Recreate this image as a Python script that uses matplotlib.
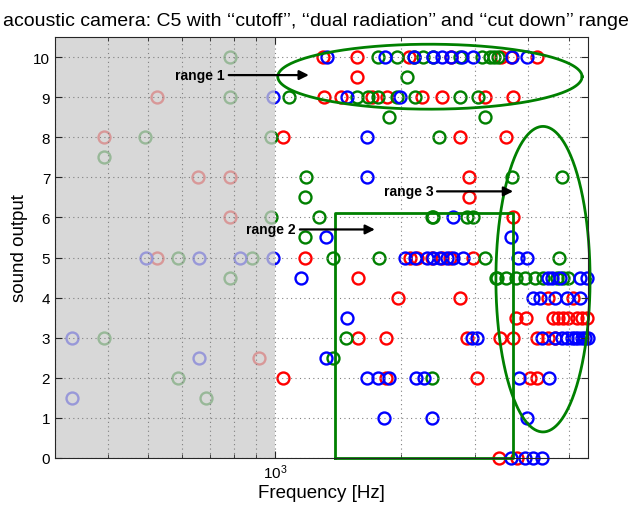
import numpy as np
import matplotlib
matplotlib.use("Agg")
import matplotlib.pyplot as plt
from matplotlib.ticker import LogLocator, NullFormatter

plt.rcParams['font.family'] = ['Liberation Sans', 'DejaVu Sans']

# ---------------- data (frequency in Hz, sound output) ----------------
red_f = [524, 392, 656, 781, 781, 524, 916,
         1301, 1567, 2085, 2630, 3450, 3650, 4205,
         1567,
         1308, 1436, 1702, 1848, 2239, 2499, 3162, 3689,
         1045, 2757, 3548,
         2897, 2897, 3689,
         1179, 2100, 2180, 2364, 2499, 2610, 2960,
         1576,
         1963, 2757, 4467, 5124,
         3748, 3960, 4591, 4720, 4850, 4985, 5240, 5383, 5533,
         1576, 1837, 2865, 3433, 3689, 4205, 4467, 4640,
         1045, 1837, 3027, 4047, 4205,
         3413, 3769]
red_y = [9, 8, 7, 7, 6, 5, 2.5,
         10, 10, 10, 10, 10, 10, 10,
         9.5,
         9, 9, 9, 9, 9, 9, 9, 9,
         8, 8, 8,
         7, 6.5, 6,
         5, 5, 5, 5, 5, 5, 5,
         4.5,
         4, 4, 4, 4,
         3.5, 3.5, 3.5, 3.5, 3.5, 3.5, 3.5, 3.5, 3.5,
         3, 3, 3, 3, 3, 3, 3, 3,
         2, 2, 2, 2, 2,
         0, 0]

blue_f = [990, 493, 659, 826, 989, 329, 659, 329,
          1330, 1828, 2143, 2380, 2499, 2630, 2787, 2960, 3667, 3981,
          1484, 1984,
          1656, 1656, 2654,
          1323, 3648,
          2040, 2154, 2301, 2378, 2471, 2568, 2654, 2803, 3790, 3981,
          1153, 4467, 4566, 4770, 5324, 5533,
          4113, 4270, 4642, 4958, 5324,
          1484,
          2944, 3027, 4324, 4642, 4822, 4958, 5097, 5179, 5266, 5383, 5474, 5566,
          1323,
          1656, 1758, 1868, 2166, 2264, 3811, 4490,
          1817, 2364, 3981,
          3648, 3938, 4113, 4324]
blue_y = [9, 5, 5, 5, 5, 3, 2.5, 1.5,
          10, 10, 10, 10, 10, 10, 10, 10, 10, 10,
          9, 9,
          8, 7, 6,
          5.5, 5.5,
          5, 5, 5, 5, 5, 5, 5, 5, 5, 5,
          4.5, 4.5, 4.5, 4.5, 4.5, 4.5,
          4, 4, 4, 4, 4,
          3.5,
          3, 3, 3, 3, 3, 3, 3, 3, 3, 3, 3, 3,
          2.5,
          2, 2, 2, 2, 2, 2, 2,
          1, 1, 1,
          0, 0, 0, 0]

green_f = [781, 781, 490, 978, 392, 978, 588, 882, 781, 392, 588, 685,
           1758, 1952, 2143, 2250, 2378, 2757, 3111, 3250, 3320, 3396,
           2062,
           1080, 1567, 1665, 1758, 1952, 2154, 2757, 3043,
           1868, 3162,
           2456,
           1185, 3667, 4822,
           1179,
           1273, 2364, 2380, 2865, 2960,
           1179,
           1374, 1769, 3162, 4744,
           3358, 3380, 3548, 3748, 3938, 4159, 4347, 4692, 4850, 4985,
           1476, 1374, 2364]
green_y = [10, 9, 8, 8, 7.5, 6, 5, 5, 4.5, 3, 2, 1.5,
           10, 10, 10, 10, 10, 10, 10, 10, 10, 10,
           9.5,
           9, 9, 9, 9, 9, 9, 9, 9,
           8.5, 8.5,
           8,
           7, 7, 7,
           6.5,
           6, 6, 6, 6, 6,
           5.5,
           5, 5, 5, 5,
           4.5, 4.5, 4.5, 4.5, 4.5, 4.5, 4.5, 4.5, 4.5, 4.5,
           3, 2.5, 2]

# annotation geometry (data units)
cutoff_f = 1000
ell1 = dict(cf=2339, half_dec=0.362, cy=9.51, hy=0.81)
ell3 = dict(cf=4345, half_dec=0.112, cy=4.46, hy=3.81)
rect2_f = [1389, 3689]
rect2_y = [0, 6.1]
labels = ["range 1", "range 2", "range 3"]
label_start = [(777, 9.55), (1147, 5.7), (2432, 6.65)]
label_tip = [(1205, 9.55), (1730, 5.7), (3689, 6.65)]

xlim = (300, 5560)
ylim = (0, 10.5)

# ---------------- figure ----------------
fig = plt.figure(figsize=(6.33, 5.06), dpi=100)
ax = fig.add_axes([55/633, 47/506, 533/633, 421/506])
ax.set_xscale('log')
ax.set_xlim(*xlim)
ax.set_ylim(*ylim)

mk = dict(ls='none', marker='o', mfc='none', ms=8.6, mew=1.7, clip_on=False, zorder=2)
ax.plot(red_f, red_y, mec=(1, 0, 0), **mk)
ax.plot(green_f, green_y, mec=(0, 0.5, 0), **mk)
ax.plot(blue_f, blue_y, mec=(0, 0, 1), **mk)

ax.axvspan(xlim[0], cutoff_f, color=(0.8, 0.8, 0.8), alpha=0.75, lw=0, zorder=2.2)

gcol = (0, 0.5, 0)
t = np.linspace(0, 2*np.pi, 400)
for e in (ell1, ell3):
    xs = 10**(np.log10(e['cf']) + e['half_dec']*np.cos(t))
    ys = e['cy'] + e['hy']*np.sin(t)
    ax.plot(xs, ys, color=gcol, lw=2, zorder=3, clip_on=False)
ax.plot([rect2_f[0], rect2_f[0], rect2_f[1], rect2_f[1], rect2_f[0]],
        [rect2_y[0], rect2_y[1], rect2_y[1], rect2_y[0], rect2_y[0]],
        color=gcol, lw=2, zorder=3, clip_on=False)

for lab, s, tp in zip(labels, label_start, label_tip):
    ax.annotate('', xy=tp, xytext=s,
                arrowprops=dict(arrowstyle='-|>', color='black', lw=1.6,
                                mutation_scale=14, shrinkA=0, shrinkB=0),
                zorder=4)
    ax.text(s[0], s[1], lab + ' ', ha='right', va='center', fontsize=10,
            fontweight='bold', color='black', zorder=4)

# ticks & grid
ax.set_yticks(range(0, 11))
ax.xaxis.set_major_locator(LogLocator(base=10, numticks=10))
ax.xaxis.set_minor_locator(LogLocator(base=10, subs=np.arange(2, 10), numticks=20))
ax.xaxis.set_minor_formatter(NullFormatter())
ax.tick_params(which='both', direction='in', top=True, right=True, labelsize=11,
               color='#262626', labelcolor='black')
ax.tick_params(which='major', length=5)
ax.tick_params(which='minor', length=3)
ax.grid(True, which='major', axis='both', ls=(0, (1, 3)), color='#808080', lw=0.8)
ax.grid(True, which='minor', axis='x', ls=(0, (1, 3)), color='#808080', lw=0.8)
ax.set_axisbelow(False)
for sp in ax.spines.values():
    sp.set_color('#262626')
    sp.set_zorder(5)

ax.set_xlabel('Frequency [Hz]', fontsize=13.5, labelpad=2)
ax.set_ylabel('sound output', fontsize=13.5, labelpad=4)
ax.set_title('acoustic camera: C5 with \u2018\u2018cutoff\u2019\u2019, \u2018\u2018dual radiation\u2019\u2019 and \u2018\u2018cut down\u2019\u2019 range',
             fontsize=14, pad=9, x=0.49)

fig.savefig('out.png', dpi=100)
